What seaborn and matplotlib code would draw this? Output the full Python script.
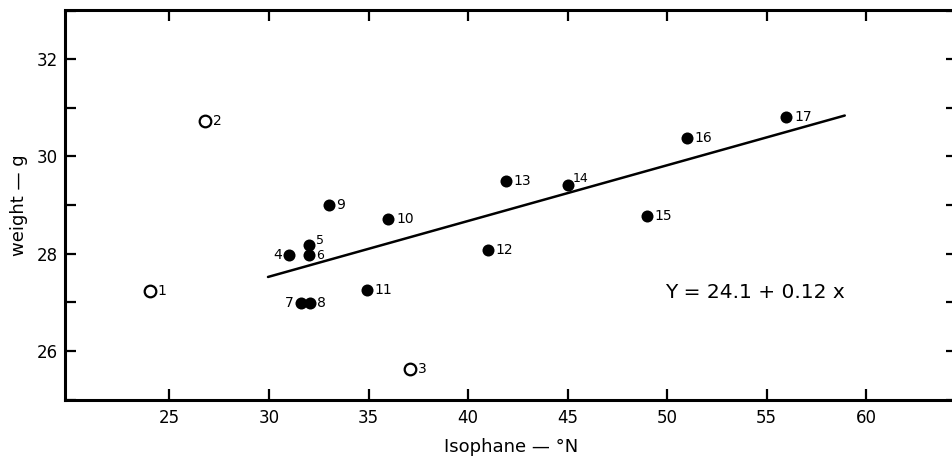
import matplotlib
matplotlib.use("Agg")
import matplotlib.pyplot as plt
import seaborn as sns
import pandas as pd

# ---- data ----
station = ["1", "2", "3", "4", "5", "6", "7", "8", "9", "10",
           "11", "12", "13", "14", "15", "16", "17"]
isophane = [24.0, 26.8, 37.1, 31.0, 32.0, 32.0, 31.6, 32.05, 33.0, 36.0,
            34.9, 41.0, 41.9, 45.0, 49.0, 51.0, 56.0]
weight = [27.23, 30.72, 25.63, 27.98, 28.18, 27.98, 26.98, 26.98, 29.0, 28.72,
          27.25, 28.08, 29.49, 29.41, 28.78, 30.38, 30.81]
excluded = [True, True, True] + [False] * 14

line_x = [29.95, 58.93]
line_y = [27.52, 30.84]

x_ticks = [25, 30, 35, 40, 45, 50, 55, 60]
y_major = [26, 28, 30, 32]
y_minor = [25, 26, 27, 28, 29, 30, 31, 32, 33]
equation = "Y = 24.1 + 0.12 x"

df = pd.DataFrame({"station": station, "isophane": isophane,
                   "weight": weight, "excluded": excluded})

# ---- figure ----
sns.set_style("white")
plt.rcParams["font.family"] = ["DejaVu Sans"]

fig = plt.figure(figsize=(9.53, 4.65), dpi=100)
W, H = 953, 465
left_px, right_px, top_px, bot_px = 65, 957, 10.5, 399.5
ax = fig.add_axes([left_px / W, (H - bot_px) / H,
                   (right_px - left_px) / W, (bot_px - top_px) / H])

filled = df[~df["excluded"]]
opened = df[df["excluded"]]

sns.lineplot(x=line_x, y=line_y, ax=ax, color="black", linewidth=1.8)
sns.scatterplot(data=filled, x="isophane", y="weight", ax=ax, color="black",
                s=75, edgecolor="black", linewidth=0, zorder=3)
sns.scatterplot(data=opened, x="isophane", y="weight", ax=ax,
                facecolor="white", edgecolor="black", s=70, linewidth=1.6,
                zorder=3)

# label offsets (points): (dx, dy, ha, size)
offsets = {
    "4": (-5, 0, "right", 10), "5": (5, 3, "left", 9), "6": (5, -1, "left", 9),
    "7": (-5, 0, "right", 10), "14": (4, 5, "left", 9),
}
for s, xv, yv in zip(station, isophane, weight):
    dx, dy, ha, fs = offsets.get(s, (5.5, 0, "left", 10))
    ax.annotate(s, (xv, yv), xytext=(dx, dy), textcoords="offset points",
                ha=ha, va="center", fontsize=fs, color="black")

ax.text(0.673, 0.275, equation, transform=ax.transAxes, fontsize=14.5,
        ha="left", va="center", color="black")

ax.set_xlim(19.75, 64.57)
ax.set_ylim(25, 33)
ax.set_xticks(x_ticks)
ax.set_xticklabels([str(t) for t in x_ticks])
ax.set_yticks(y_minor)
ax.set_yticklabels([str(t) if t in y_major else "" for t in y_minor])

ax.tick_params(axis="both", direction="in", length=8, width=1.6,
               labelsize=12, color="black", labelcolor="black", pad=7)
ax.tick_params(axis="y", pad=5)
ax.tick_params(axis="x", top=True, bottom=True)
ax.tick_params(axis="y", left=True, right=True)

for side in ["left", "bottom", "top", "right"]:
    ax.spines[side].set_linewidth(2.2)
    ax.spines[side].set_color("black")

ax.set_xlabel("Isophane — °N", fontsize=13, labelpad=8, color="black")
ax.set_ylabel("weight — g", fontsize=13, labelpad=6, color="black")

fig.savefig("out.png", dpi=100)
